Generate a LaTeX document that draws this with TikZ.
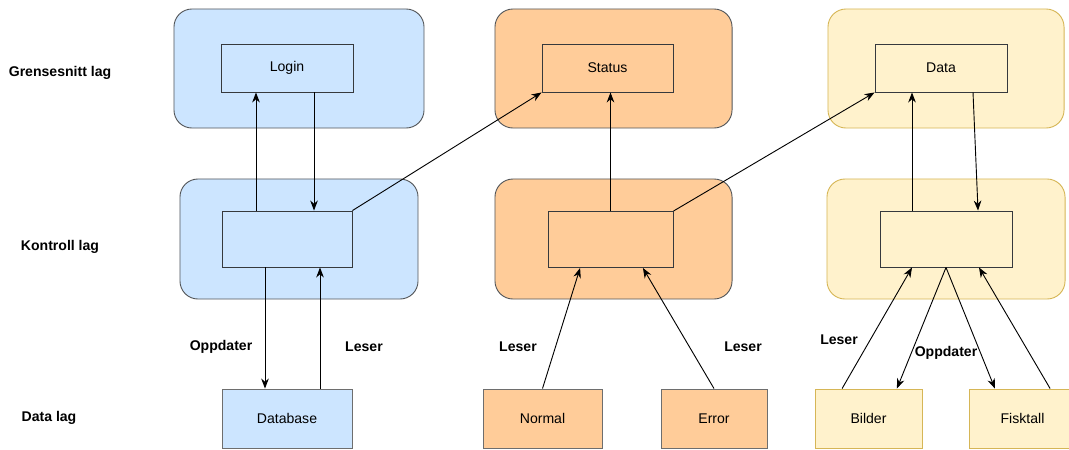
\documentclass[tikz,border=0pt]{standalone}
\usepackage{fontspec}
\setmainfont{Liberation Sans}
\usetikzlibrary{arrows.meta,calc}
\definecolor{blaa}{HTML}{CCE5FF}
\definecolor{oransje}{HTML}{FFCC99}
\definecolor{gul}{HTML}{FFF2CC}
\definecolor{gulkant}{HTML}{D6B656}
\definecolor{morkkant}{HTML}{36393D}
\definecolor{graakant}{HTML}{6E6E6E}
\tikzset{
lag/.style={draw=morkkant!85,rounded corners=0.45cm,minimum height=3cm,minimum width=5.95cm},
boks/.style={draw=morkkant,minimum width=3.3cm,minimum height=1.2cm},
kilde/.style={draw=graakant,minimum height=1.475cm},
tekst/.style={font=\bfseries},
peker/.style={-{Stealth[length=2.5mm,width=1.9mm,inset=0.8mm]}}
}
\begin{document}
\begin{tikzpicture}[x=0.025cm,y=-0.025cm,line width=0.65pt]
\clip (0,0) rectangle (1069,449);
\useasboundingbox (0,0) rectangle (1069,449);
%%% lagene
\node[tekst] (grensesnitt) at (60,73) {Grensesnitt lag};
\node[tekst] (kontroll) at (60,247) {Kontroll lag};
\node[tekst] (datalag) at (49,418) {Data lag};
%%% grensesnitt lag
\node[lag,fill=blaa,minimum width=6.25cm,minimum height=2.975cm] (ramme11) at (299,68.5) {};
\node[lag,fill=oransje,minimum width=5.925cm,minimum height=2.975cm] (ramme12) at (613.5,68.5) {};
\node[lag,fill=gul,draw=gulkant,minimum width=5.9cm,minimum height=2.975cm] (ramme13) at (946,68.5) {};
\node[boks,fill=blaa] (login) at (287,68) {Login};
\node[boks,fill=oransje,minimum width=3.275cm] (status) at (607.5,68) {Status};
\node[boks,fill=gul] (data) at (941,68) {Data};
%%% kontroll lag
\node[lag,fill=blaa] (ramme21) at (299,239) {};
\node[lag,fill=oransje,minimum width=5.925cm] (ramme22) at (613.5,239) {};
\node[lag,fill=gul,draw=gulkant] (ramme23) at (946,239) {};
\node[boks,fill=blaa,minimum width=3.25cm,minimum height=1.4cm] (kontroll1) at (287,239) {};
\node[boks,fill=oransje,minimum width=3.125cm,minimum height=1.4cm] (kontroll2) at (610.5,239.5) {};
\node[boks,fill=gul,minimum height=1.4cm] (kontroll3) at (946,239) {};
%%% data lag
\node[kilde,fill=blaa,minimum width=3.25cm] (database) at (287,418.5) {Database};
\node[kilde,fill=oransje,minimum width=2.975cm] (normal) at (542.5,418.5) {Normal};
\node[kilde,fill=oransje,minimum width=2.65cm] (error) at (714,418.5) {Error};
\node[kilde,fill=gul,draw=gulkant,minimum width=2.675cm] (bilder) at (868.5,418.5) {Bilder};
\node[kilde,fill=gul,draw=gulkant,minimum width=2.675cm] (fisktall) at (1022.5,418.5) {Fisktall};
%%% piler blaa
\draw[peker] ([xshift=-0.775cm]kontroll1.north) -- ([xshift=-0.775cm]login.south);
\draw[peker] ([xshift=0.675cm]login.south) -- ([xshift=0.675cm]kontroll1.north);
\draw[peker] (kontroll1.north east) -- (status.south west);
\draw[peker] ([xshift=-0.55cm]kontroll1.south) -- ([xshift=-0.55cm]kontroll1.south |- database.north);
\draw[peker] ([xshift=0.825cm]kontroll1.south |- database.north) -- ([xshift=0.825cm]kontroll1.south);
%%% piler oransje
\draw[peker] (kontroll2.north) -- (kontroll2.north |- status.south);
\draw[peker] (kontroll2.north east) -- (data.south west);
\draw[peker] (normal.north) -- ([xshift=-0.76cm]kontroll2.south);
\draw[peker] (error.north) -- ([xshift=0.81cm]kontroll2.south);
%%% piler gul
\draw[peker] ([xshift=-0.85cm]kontroll3.north) -- ([xshift=-0.85cm]kontroll3.north |- data.south);
\draw[peker] ([xshift=0.8cm]data.south) -- ([xshift=0.8cm]kontroll3.north);
\draw[peker] ([xshift=-0.66cm]bilder.north) -- ([xshift=-0.85cm]kontroll3.south);
\draw[peker] (kontroll3.south) -- ([xshift=0.71cm]bilder.north);
\draw[peker] (kontroll3.south) -- ([xshift=-0.69cm]fisktall.north);
\draw[peker] ([xshift=0.69cm]fisktall.north) -- ([xshift=0.825cm]kontroll3.south);
%%% merkelapper
\node[tekst] (oppdater1) at (221,347) {Oppdater};
\node[tekst] (leser1) at (364,347) {Leser};
\node[tekst] (leser2) at (518,347) {Leser};
\node[tekst] (leser3) at (743,347) {Leser};
\node[tekst] (leser4) at (839,340) {Leser};
\node[tekst] (oppdater2) at (946,353) {Oppdater};
\end{tikzpicture}
\end{document}
